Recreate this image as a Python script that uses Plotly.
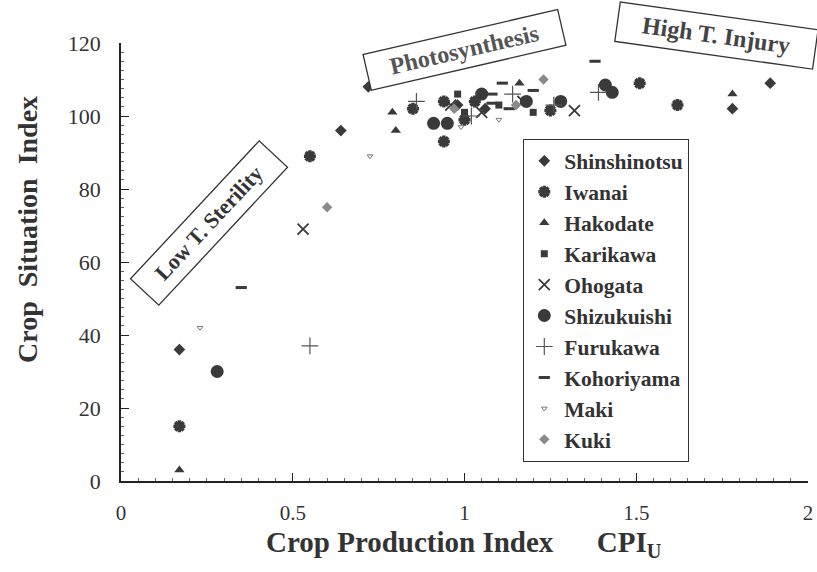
import plotly.graph_objects as go

# ---- data (CPI_U, Crop Situation Index) ----
shin_x = [0.17, 0.64, 0.72, 1.78, 1.89, 0.98, 1.06]
shin_y = [36, 96, 108, 102, 109, 103, 102]
iwa_x = [0.17, 0.55, 1.51, 1.62, 0.94, 0.94, 1.00, 1.25, 0.85, 1.03]
iwa_y = [15, 89, 109, 103, 104, 93, 99, 101.5, 102, 104]
hako_x = [0.17, 0.79, 0.80, 1.16, 1.78]
hako_y = [3, 101, 96, 109, 106]
kari_x = [0.98, 1.00, 1.10, 1.20]
kari_y = [106, 101, 103, 101]
oho_x = [0.53, 1.32, 1.05, 1.17, 0.96]
oho_y = [69, 101.5, 101, 104, 103]
shiz_x = [0.28, 0.91, 0.95, 1.05, 1.18, 1.28, 1.41, 1.43]
shiz_y = [30, 98, 98, 106, 104, 104, 108.5, 106.5]
furu_x = [0.55, 0.86, 1.14, 1.39, 1.02, 1.26]
furu_y = [37, 104, 106, 106.5, 100, 103]
koho_x = [0.35, 1.38, 1.11, 1.20, 1.08, 1.13, 1.08]
koho_y = [53, 115, 109, 107, 106, 102, 103.5]
maki_x = [0.23, 0.725, 0.99, 1.10]
maki_y = [42, 89, 97, 99]
kuki_x = [0.60, 1.23, 0.97, 1.15]
kuki_y = [75, 110, 102, 103]

series_names = ["Shinshinotsu", "Iwanai", "Hakodate", "Karikawa", "Ohogata",
                "Shizukuishi", "Furukawa", "Kohoriyama", "Maki", "Kuki"]

x_ticks = [0, 0.5, 1, 1.5, 2]
x_tick_text = ["0", "0.5", "1", "1.5", "2"]
y_ticks = [0, 20, 40, 60, 80, 100, 120]

DARK = "#3a3a3a"
FONT = "Liberation Serif"

styles = [
    dict(symbol="diamond", size=9, color=DARK),
    dict(symbol="asterisk", size=10, color=DARK, line=dict(color=DARK, width=3.5)),
    dict(symbol="triangle-up", size=9, color=DARK),
    dict(symbol="square", size=7, color=DARK),
    dict(symbol="x-thin", size=11, color=DARK, line=dict(color=DARK, width=1.8)),
    dict(symbol="circle", size=13, color=DARK),
    dict(symbol="cross-thin", size=12, color="#555555", line=dict(color="#555555", width=1.2)),
    dict(symbol="line-ew", size=8, color=DARK, line=dict(color=DARK, width=3)),
    dict(symbol="triangle-down-open", size=5, color="#777777", line=dict(color="#777777", width=1)),
    dict(symbol="diamond", size=8, color="#8a8a8a"),
]

xs = [shin_x, iwa_x, hako_x, kari_x, oho_x, shiz_x, furu_x, koho_x, maki_x, kuki_x]
ys = [shin_y, iwa_y, hako_y, kari_y, oho_y, shiz_y, furu_y, koho_y, maki_y, kuki_y]

fig = go.Figure()
for name, x, y, st in zip(series_names, xs, ys, styles):
    fig.add_trace(go.Scatter(x=x, y=y, mode="markers", name=name, marker=st,
                             cliponaxis=False))

L, R, T, B = 121, 9, 43, 91
W, H = 817, 572
pw, ph = W - L - R, H - T - B

def px2paper(px, py):
    return (px - L) / pw, (H - B - py) / ph

annots = []
# region labels
for text, cx, cy, ang, w, h, size, col in [
    ("Low T. Sterility", 209, 223, -47, 185, 35, 22, "#333333"),
    ("Photosynthesis", 464, 50, -13, 196, 33, 24, "#555555"),
    ("High T. Injury", 716, 35, 8, 196, 36, 24, "#444444"),
]:
    ax_, ay_ = px2paper(cx, cy)
    annots.append(dict(text=text, x=ax_, y=ay_, xref="paper", yref="paper",
                       xanchor="center", yanchor="middle", showarrow=False,
                       textangle=ang, width=w, height=h,
                       bordercolor="#333333", borderwidth=1.3, bgcolor="white",
                       font=dict(family=FONT, size=size, color=col, weight="bold")))

# axis titles
tx, ty = px2paper(464, 544)
annots.append(dict(text="Crop Production Index&nbsp;&nbsp;&nbsp;&nbsp;&nbsp;&nbsp;CPI<sub>U</sub>",
                   x=tx, y=ty,
                   xref="paper", yref="paper", xanchor="center", yanchor="middle",
                   showarrow=False,
                   font=dict(family=FONT, size=29, color="#333333", weight="bold")))
tx, ty = px2paper(27, 230)
annots.append(dict(text="Crop&nbsp;&nbsp;Situation&nbsp;&nbsp;Index", x=tx, y=ty, textangle=-90,
                   xref="paper", yref="paper", xanchor="center", yanchor="middle",
                   showarrow=False,
                   font=dict(family=FONT, size=28, color="#333333", weight="bold")))

lx, ly = px2paper(523, 139)

fig.update_layout(
    width=W, height=H,
    margin=dict(l=L, r=R, t=T, b=B, autoexpand=False),
    paper_bgcolor="white", plot_bgcolor="white",
    font=dict(family=FONT, color="#333333"),
    showlegend=True,
    legend=dict(x=lx, y=ly, xanchor="left", yanchor="top",
                bordercolor="#333333", borderwidth=1.3, bgcolor="white",
                font=dict(family=FONT, size=21.5, color="#333333", weight="bold"),
                itemwidth=30, tracegroupgap=0),
    annotations=annots,
    xaxis=dict(range=[0, 2], tickvals=x_ticks, ticktext=x_tick_text,
               showgrid=False, zeroline=False, showline=True, linecolor="#222222",
               linewidth=1.5, ticks="inside", ticklen=8, tickcolor="#222222",
               tickfont=dict(family=FONT, size=21, color="#333333"),
               ticklabelstandoff=12,
               minor=dict(ticks="inside", ticklen=3, dtick=0.05, tickcolor="#666666")),
    yaxis=dict(range=[0, 120], tickvals=y_ticks,
               showgrid=False, zeroline=False, showline=True, linecolor="#222222",
               linewidth=1.5, ticks="inside", ticklen=8, tickcolor="#222222",
               tickfont=dict(family=FONT, size=22, color="#333333"),
               ticklabelstandoff=14,
               minor=dict(ticks="inside", ticklen=3, dtick=2.5, tickcolor="#666666")),
)

fig.write_html("out.html",
               config={"displayModeBar": False},
               post_script="document.body.style.margin='0';document.body.style.overflow='hidden';")
